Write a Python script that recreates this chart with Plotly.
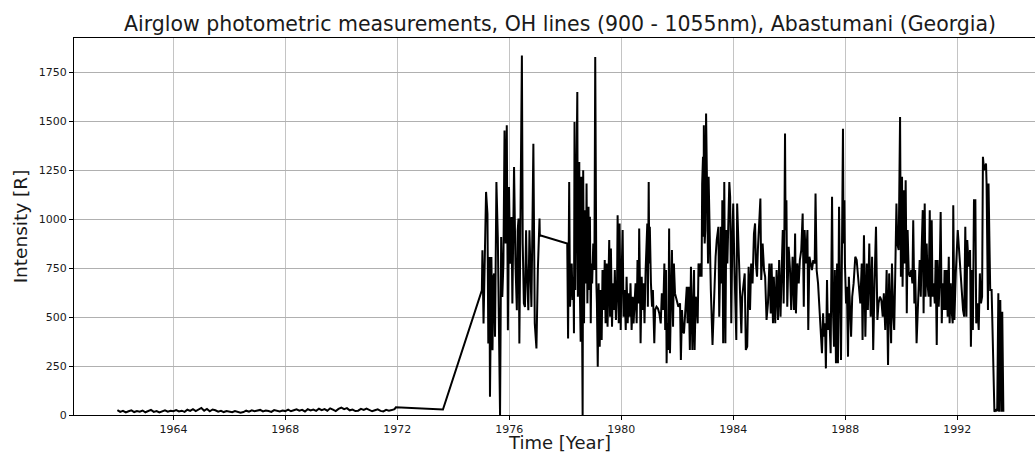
import plotly.graph_objects as go

# ---- data: decimal year / intensity [R] ----
low_years = [1962.0, 1962.1, 1962.2, 1962.3, 1962.4, 1962.5, 1962.6, 1962.7, 1962.8, 1962.9,
             1963.0, 1963.1, 1963.2, 1963.3, 1963.4, 1963.5, 1963.6, 1963.7, 1963.8, 1963.9,
             1964.0, 1964.1, 1964.2, 1964.3, 1964.4, 1964.5, 1964.6, 1964.7, 1964.8, 1964.9,
             1965.0, 1965.1, 1965.2, 1965.3, 1965.4, 1965.5, 1965.6, 1965.7, 1965.8, 1965.9,
             1966.0, 1966.1, 1966.2, 1966.3, 1966.4, 1966.5, 1966.6, 1966.7, 1966.8, 1966.9,
             1967.0, 1967.1, 1967.2, 1967.3, 1967.4, 1967.5, 1967.6, 1967.7, 1967.8, 1967.9,
             1968.0, 1968.1, 1968.2, 1968.3, 1968.4, 1968.5, 1968.6, 1968.7, 1968.8, 1968.9,
             1969.0, 1969.1, 1969.2, 1969.3, 1969.4, 1969.5, 1969.6, 1969.7, 1969.8, 1969.9,
             1970.0, 1970.1, 1970.2, 1970.3, 1970.4, 1970.5, 1970.6, 1970.7, 1970.8, 1970.9,
             1971.0, 1971.1, 1971.2, 1971.3, 1971.4, 1971.5, 1971.6, 1971.7, 1971.8, 1971.9,
             1971.95, 1973.63]
low_vals = [25, 16, 21, 13, 19, 24, 15, 20, 17, 23,
            14, 21, 26, 16, 20, 13, 18, 24, 17, 22,
            19, 25, 18, 22, 16, 27, 21, 30, 20, 26,
            36, 22, 31, 19, 28, 24, 17, 21, 15, 20,
            18, 14, 20, 16, 12, 15, 22, 17, 24, 19,
            22, 26, 18, 23, 20, 16, 25, 21, 18, 23,
            20, 27, 19, 24, 29, 22, 26, 18, 30, 23,
            28, 21, 32, 25, 30, 22, 34, 27, 20, 31,
            38, 30, 35, 24, 28, 20, 22, 31, 26, 33,
            27, 19, 24, 29, 21, 18, 26, 22, 25, 30,
            40, 28]

years_1975 = [1975.02, 1975.04, 1975.08, 1975.12, 1975.17, 1975.22, 1975.25, 1975.29, 1975.31, 1975.36,
              1975.40, 1975.43, 1975.46, 1975.49, 1975.54, 1975.59, 1975.64, 1975.67, 1975.71, 1975.75,
              1975.79, 1975.83, 1975.87, 1975.91, 1975.95, 1975.99, 1976.03, 1976.08, 1976.11, 1976.15,
              1976.17, 1976.22, 1976.27, 1976.30, 1976.33, 1976.36, 1976.41, 1976.45, 1976.48, 1976.52,
              1976.56, 1976.60, 1976.62, 1976.68, 1976.72, 1976.74, 1976.79, 1976.83, 1976.86, 1976.91,
              1976.97, 1977.02, 1977.05, 1977.08, 1977.09]
vals_1975 = [637, 841, 467, 739, 1139, 1028, 365, 807, 93, 807,
             331, 705, 722, 399, 1190, 909, 195, 0, 909, 603,
             773, 1453, 876, 1479, 433, 1164, 773, 1011, 569, 943,
             1266, 773, 535, 943, 1003, 365, 1096, 1836, 876, 570,
             552, 943, 773, 535, 943, 842, 552, 1011, 1385, 468,
             340, 740, 944, 1003, 918]

years_1978 = [1978.07, 1978.10, 1978.12, 1978.14, 1978.17, 1978.19, 1978.23, 1978.26, 1978.29, 1978.31,
              1978.33, 1978.36, 1978.38, 1978.41, 1978.43, 1978.45, 1978.48, 1978.50, 1978.52, 1978.55,
              1978.57, 1978.60, 1978.62, 1978.64, 1978.67, 1978.69, 1978.71, 1978.74, 1978.76, 1978.79,
              1978.81, 1978.83, 1978.86, 1978.88, 1978.91, 1978.93, 1978.96, 1979.00, 1979.04, 1979.07,
              1979.11, 1979.13, 1979.16, 1979.19, 1979.23, 1979.26, 1979.30, 1979.33, 1979.37, 1979.41,
              1979.44, 1979.48, 1979.51, 1979.55, 1979.57, 1979.60, 1979.63, 1979.67, 1979.70, 1979.74,
              1979.77, 1979.81, 1979.85, 1979.87, 1979.91, 1979.94, 1979.98, 1980.01, 1980.05, 1980.08,
              1980.12, 1980.16, 1980.19, 1980.23, 1980.26, 1980.30, 1980.33, 1980.37, 1980.41, 1980.44,
              1980.48, 1980.51, 1980.55, 1980.58, 1980.62, 1980.64, 1980.67, 1980.69, 1980.73, 1980.76,
              1980.80, 1980.83, 1980.87, 1980.91, 1980.93, 1980.95, 1980.98, 1981.00, 1981.02, 1981.06,
              1981.10, 1981.13, 1981.18, 1981.21, 1981.26, 1981.31, 1981.36, 1981.41, 1981.45, 1981.50,
              1981.54, 1981.57, 1981.60, 1981.62, 1981.64, 1981.68, 1981.71, 1981.74]
vals_1978 = [876, 391, 774, 1190, 553, 672, 774, 587, 706, 417,
             1496, 638, 1012, 1267, 1649, 604, 1029, 1292, 638, 374,
             1216, 570, 0, 1250, 468, 910, 1046, 672, 1182, 570,
             876, 1063, 638, 1012, 468, 774, 672, 876, 740, 1828,
             672, 570, 247, 672, 349, 638, 383, 740, 536, 791,
             468, 774, 451, 842, 893, 502, 850, 451, 672, 536,
             740, 485, 672, 1020, 468, 978, 434, 706, 944, 502,
             638, 434, 706, 468, 621, 502, 672, 434, 604, 468,
             553, 672, 468, 791, 570, 952, 638, 366, 706, 536,
             672, 468, 740, 859, 978, 553, 1190, 774, 961, 672,
             553, 638, 366, 536, 553, 544, 519, 468, 621, 536,
             774, 434, 740, 264, 468, 332, 952, 315]

years_1982 = [1981.78, 1981.81, 1981.85, 1981.88, 1981.92, 1981.98, 1982.04, 1982.10, 1982.13, 1982.17,
              1982.20, 1982.24, 1982.29, 1982.34, 1982.37, 1982.41, 1982.45, 1982.49, 1982.54, 1982.57,
              1982.60, 1982.62, 1982.66, 1982.69, 1982.73, 1982.76, 1982.80, 1982.84, 1982.87, 1982.89,
              1982.92, 1982.94, 1982.95, 1982.98, 1983.00, 1983.03, 1983.05, 1983.07, 1983.10, 1983.12,
              1983.14, 1983.17, 1983.20, 1983.26, 1983.32, 1983.37, 1983.41, 1983.44, 1983.47, 1983.50,
              1983.54, 1983.56, 1983.59, 1983.61, 1983.64, 1983.68, 1983.72, 1983.75, 1983.79, 1983.82,
              1983.86, 1983.89, 1983.93, 1983.97, 1984.00, 1984.04, 1984.07, 1984.11, 1984.14, 1984.18,
              1984.22, 1984.25, 1984.29, 1984.32, 1984.36, 1984.41, 1984.45, 1984.50, 1984.55, 1984.60,
              1984.64, 1984.69, 1984.74, 1984.78, 1984.81, 1984.85, 1984.88, 1984.93, 1984.97, 1985.00,
              1985.05, 1985.10, 1985.14, 1985.19, 1985.24, 1985.29, 1985.34, 1985.37, 1985.42, 1985.45,
              1985.50, 1985.55, 1985.60, 1985.64]
vals_1982 = [740, 842, 451, 774, 621, 587, 553, 570, 281, 536,
             434, 417, 553, 655, 468, 655, 332, 757, 332, 536,
             740, 332, 604, 587, 468, 774, 706, 774, 706, 1182,
             1318, 910, 1479, 876, 944, 1539, 1216, 944, 774, 1216,
             1063, 774, 638, 357, 621, 808, 893, 944, 961, 502,
             740, 961, 672, 1097, 366, 1190, 366, 944, 774, 1012,
             1190, 1114, 468, 927, 1080, 774, 638, 383, 1080, 910,
             672, 570, 417, 604, 672, 723, 332, 349, 757, 536,
             774, 672, 927, 978, 774, 706, 842, 978, 1105, 689,
             876, 740, 706, 485, 570, 774, 519, 774, 468, 706,
             468, 740, 485, 791]

years_1986 = [1985.69, 1985.73, 1985.77, 1985.80, 1985.82, 1985.85, 1985.87, 1985.90, 1985.93, 1985.98,
              1986.03, 1986.07, 1986.12, 1986.17, 1986.21, 1986.24, 1986.29, 1986.34, 1986.38, 1986.43,
              1986.48, 1986.52, 1986.55, 1986.60, 1986.65, 1986.68, 1986.72, 1986.77, 1986.81, 1986.86,
              1986.91, 1986.94, 1986.98, 1987.03, 1987.07, 1987.12, 1987.17, 1987.21, 1987.24, 1987.28,
              1987.31, 1987.35, 1987.38, 1987.43, 1987.48, 1987.53, 1987.56, 1987.60, 1987.63, 1987.67,
              1987.71, 1987.74, 1987.78, 1987.81, 1987.85, 1987.88, 1987.92, 1987.94, 1987.97, 1987.99,
              1988.03, 1988.06, 1988.10, 1988.13, 1988.17, 1988.21, 1988.25, 1988.30, 1988.36, 1988.41,
              1988.46, 1988.50, 1988.54, 1988.59, 1988.62, 1988.67, 1988.72, 1988.77, 1988.81, 1988.86,
              1988.91, 1988.96, 1989.00, 1989.05, 1989.10, 1989.15, 1989.19, 1989.24, 1989.29, 1989.34,
              1989.38, 1989.43, 1989.48, 1989.53, 1989.57]
vals_1986 = [502, 740, 944, 570, 774, 1437, 944, 1097, 553, 859,
             740, 536, 808, 536, 927, 519, 774, 672, 791, 842,
             1029, 553, 944, 774, 944, 434, 808, 774, 740, 791,
             774, 1131, 740, 672, 570, 468, 315, 519, 400, 468,
             238, 689, 434, 519, 315, 1114, 553, 349, 740, 264,
             774, 264, 1063, 672, 281, 774, 1462, 876, 1097, 774,
             570, 655, 298, 706, 553, 400, 604, 672, 808, 791,
             706, 638, 570, 774, 383, 918, 400, 774, 536, 876,
             502, 808, 332, 689, 961, 485, 570, 604, 587, 502,
             621, 434, 740, 255, 723]

years_1990 = [1989.64, 1989.67, 1989.72, 1989.75, 1989.79, 1989.83, 1989.86, 1989.91, 1989.96, 1989.99,
              1990.03, 1990.05, 1990.09, 1990.12, 1990.16, 1990.20, 1990.23, 1990.27, 1990.31, 1990.36,
              1990.40, 1990.43, 1990.47, 1990.50, 1990.55, 1990.59, 1990.62, 1990.66, 1990.70, 1990.73,
              1990.77, 1990.80, 1990.84, 1990.87, 1990.91, 1990.95, 1990.98, 1991.02, 1991.05, 1991.09,
              1991.12, 1991.16, 1991.20, 1991.23, 1991.27, 1991.30, 1991.34, 1991.37, 1991.41, 1991.45,
              1991.48, 1991.52, 1991.55, 1991.59, 1991.62, 1991.66, 1991.70, 1991.73, 1991.77, 1991.80,
              1991.84, 1991.86, 1991.90, 1991.95, 1991.98, 1992.02, 1992.06, 1992.11, 1992.16, 1992.21,
              1992.25, 1992.29, 1992.33, 1992.36, 1992.41, 1992.46, 1992.49, 1992.53, 1992.56, 1992.60,
              1992.65, 1992.68, 1992.72, 1992.77, 1992.81, 1992.85, 1992.89, 1992.92, 1992.96, 1992.99,
              1993.03, 1993.05, 1993.08, 1993.10, 1993.12, 1993.15, 1993.18, 1993.23, 1993.33, 1993.39,
              1993.43, 1993.47, 1993.50, 1993.54, 1993.58, 1993.61, 1993.65]
vals_1990 = [366, 774, 502, 434, 740, 1080, 876, 842, 1522, 706,
             1216, 655, 1148, 774, 1199, 519, 944, 723, 706, 740,
             672, 995, 570, 740, 366, 485, 638, 791, 604, 842,
             1046, 519, 1080, 604, 876, 655, 604, 1046, 553, 995,
             604, 672, 570, 791, 357, 791, 553, 672, 1037, 468,
             672, 536, 740, 536, 740, 502, 808, 468, 672, 536,
             468, 1071, 485, 723, 808, 944, 859, 740, 638, 536,
             502, 961, 502, 893, 757, 842, 349, 740, 434, 1097,
             1097, 468, 570, 434, 723, 570, 604, 1318, 1250, 1267,
             1284, 1182, 774, 536, 1182, 740, 638, 638, 17, 26,
             20, 621, 17, 587, 17, 527, 17]

x_ticks = [1964, 1968, 1972, 1976, 1980, 1984, 1988, 1992]
y_ticks = [0, 250, 500, 750, 1000, 1250, 1500, 1750]

title_text = "Airglow photometric measurements, OH lines (900 - 1055nm), Abastumani (Georgia)"
x_label = "Time [Year]"
y_label = "Intensity [R]"

years, vals = [], []
for ys, vs in [(low_years, low_vals), (years_1975, vals_1975), (years_1978, vals_1978),
               (years_1982, vals_1982), (years_1986, vals_1986), (years_1990, vals_1990)]:
    for y, v in zip(ys, vs, strict=True):
        years.append(y)
        vals.append(v)

FONT = "DejaVu Sans"
TXT = "#1a1a1a"
W, H = 1035, 455
L, R, T, B = 74, 0, 38, 40
plot_w, plot_h = W - L - R, H - T - B

fig = go.Figure(go.Scatter(x=years, y=vals, mode="lines",
                           line=dict(color="black", width=2), showlegend=False))

fig.update_layout(
    width=W, height=H,
    margin=dict(l=L, r=R, t=T, b=B, autoexpand=False),
    paper_bgcolor="white", plot_bgcolor="white",
    font=dict(family=FONT, color=TXT),
    title=dict(text=title_text, font=dict(size=20.5, family=FONT, color=TXT),
               x=560 / W, xanchor="center", xref="container",
               y=1 - 24 / H, yanchor="middle", yref="container"),
)
# x-axis label sitting at the bottom edge of the figure, under the tick labels
fig.add_annotation(text=x_label, xref="paper", yref="paper",
                   x=(559 - L) / plot_w, y=-(H - 1 - (H - B)) / plot_h,
                   xanchor="center", yanchor="bottom", showarrow=False, borderpad=0,
                   font=dict(size=18, family=FONT, color=TXT))
fig.update_xaxes(
    range=[1960.45, 1994.78], tickvals=x_ticks, tickformat="d",
    showgrid=True, gridcolor="#c4c4c4", gridwidth=1,
    showline=True, linecolor="black", linewidth=1, mirror=True,
    ticks="outside", ticklen=4, tickcolor="black", tickwidth=1,
    tickfont=dict(size=11, family=FONT, color=TXT),
    zeroline=False, automargin=False,
)
fig.update_yaxes(
    range=[0, 1925], tickvals=y_ticks,
    showgrid=True, gridcolor="#b0b0b0", gridwidth=1,
    showline=True, linecolor="black", linewidth=1, mirror=False,
    ticks="outside", ticklen=4, tickcolor="black", tickwidth=1,
    tickfont=dict(size=11, family=FONT, color=TXT),
    zeroline=False, automargin=False,
    title=dict(text=y_label, font=dict(size=18.5, family=FONT, color=TXT), standoff=6),
)

fig.write_html("out.html")
